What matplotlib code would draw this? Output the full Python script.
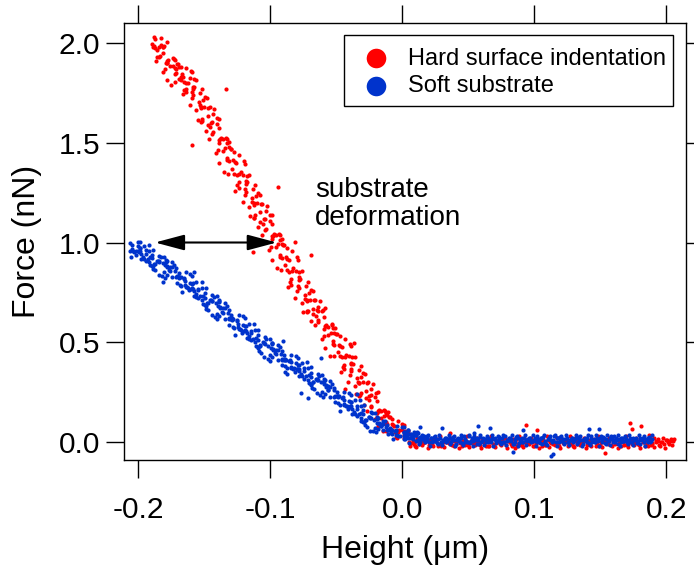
import matplotlib
matplotlib.use('Agg')
import matplotlib.pyplot as plt
from matplotlib.patches import Rectangle
from matplotlib.ticker import FormatStrFormatter

# ---------------- data ----------------
# Hard surface indentation: steep (contact) part, first sweep
hard_steep_x = [
    -0.1880, -0.1890, -0.1870, -0.1830, -0.1860, -0.1840, -0.1810, -0.1810, -0.1780, -0.1810,
    -0.1780, -0.1840, -0.1710, -0.1790, -0.1730, -0.1810, -0.1740, -0.1680, -0.1760, -0.1700,
    -0.166, -0.175, -0.167, -0.160, -0.169, -0.172, -0.159, -0.164, -0.156, -0.165,
    -0.158, -0.164, -0.151, -0.159, -0.153, -0.161, -0.154, -0.148, -0.156, -0.150,
    -0.146, -0.155, -0.147, -0.140, -0.149, -0.152, -0.139, -0.144, -0.136, -0.145,
    -0.138, -0.144, -0.131, -0.139, -0.133, -0.141, -0.134, -0.128, -0.136, -0.130,
    -0.126, -0.135, -0.127, -0.120, -0.129, -0.132, -0.119, -0.124, -0.116, -0.125,
    -0.118, -0.124, -0.111, -0.119, -0.113, -0.121, -0.114, -0.108, -0.116, -0.110,
    -0.106, -0.115, -0.107, -0.100, -0.109, -0.112, -0.099, -0.104, -0.096, -0.105,
    -0.098, -0.104, -0.091, -0.099, -0.093, -0.101, -0.094, -0.088, -0.096, -0.090,
    -0.086, -0.095, -0.087, -0.080, -0.089, -0.092, -0.079, -0.084, -0.076, -0.085,
    -0.078, -0.084, -0.071, -0.079, -0.073, -0.081, -0.074, -0.068, -0.076, -0.070,
    -0.066, -0.075, -0.067, -0.060, -0.069, -0.072, -0.059, -0.064, -0.056, -0.065,
    -0.058, -0.064, -0.051, -0.059, -0.053, -0.061, -0.054, -0.048, -0.056, -0.050,
    -0.046, -0.055, -0.047, -0.040, -0.049, -0.052, -0.039, -0.044, -0.036, -0.045,
    -0.038, -0.044, -0.031, -0.039, -0.033, -0.041, -0.034, -0.028, -0.036, -0.030,
    -0.026, -0.035, -0.027, -0.020, -0.029, -0.032, -0.019, -0.024, -0.016, -0.025,
    -0.018, -0.024, -0.011, -0.019, -0.013, -0.021, -0.014, -0.008, -0.016, -0.010,
    -0.006, -0.015, -0.007, 0.000, -0.009, -0.012, 0.001, -0.004, 0.004, -0.005,
    0.002, -0.004, 0.009, 0.001, 0.007,
]
hard_steep_y = [
    2.030, 1.980, 2.020, 1.990, 1.930, 1.980, 1.950, 1.980, 1.900, 1.980,
    1.900, 1.933, 1.896, 1.899, 1.922, 1.855, 1.888, 1.831, 1.884, 1.897,
    1.830, 1.793, 1.846, 1.859, 1.822, 1.805, 1.858, 1.771, 1.814, 1.767,
    1.820, 1.758, 1.716, 1.754, 1.752, 1.689, 1.707, 1.725, 1.663, 1.681,
    1.679, 1.617, 1.675, 1.623, 1.561, 1.608, 1.576, 1.604, 1.522, 1.600,
    1.518, 1.546, 1.504, 1.502, 1.519, 1.447, 1.475, 1.413, 1.461, 1.469,
    1.397, 1.355, 1.403, 1.411, 1.368, 1.346, 1.394, 1.302, 1.340, 1.288,
    1.336, 1.274, 1.232, 1.270, 1.267, 1.205, 1.223, 1.241, 1.179, 1.197,
    1.195, 1.133, 1.191, 1.139, 1.076, 1.124, 1.092, 1.120, 1.038, 1.116,
    1.034, 1.062, 1.020, 1.018, 1.036, 0.963, 0.991, 0.929, 0.977, 0.985,
    0.913, 0.871, 0.919, 0.927, 0.885, 0.863, 0.910, 0.818, 0.856, 0.804,
    0.850, 0.788, 0.746, 0.784, 0.782, 0.720, 0.738, 0.756, 0.694, 0.712,
    0.710, 0.651, 0.712, 0.663, 0.604, 0.655, 0.626, 0.657, 0.578, 0.659,
    0.580, 0.609, 0.569, 0.568, 0.587, 0.516, 0.546, 0.485, 0.534, 0.543,
    0.473, 0.432, 0.481, 0.490, 0.450, 0.429, 0.478, 0.387, 0.427, 0.376,
    0.425, 0.364, 0.324, 0.363, 0.362, 0.301, 0.321, 0.340, 0.279, 0.298,
    0.298, 0.237, 0.296, 0.245, 0.185, 0.234, 0.203, 0.232, 0.152, 0.231,
    0.158, 0.174, 0.148, 0.146, 0.156, 0.112, 0.128, 0.090, 0.118, 0.122,
    0.078, 0.054, 0.084, 0.090, 0.066, 0.054, 0.084, 0.030, 0.054, 0.024,
    0.054, 0.018, -0.006, 0.018, 0.018,
]
# Hard surface indentation: steep part, second sweep
hard_steep2_x = [
    -0.1895, -0.1825, -0.1880, -0.1835, -0.1785, -0.1855, -0.1875, -0.1775, -0.1805, -0.1865,
    -0.1715, -0.1785, -0.1735, -0.1795, -0.1695, -0.1725, -0.1785, -0.1675, -0.1725, -0.1635,
    -0.1715, -0.1625, -0.1725, -0.1635, -0.1585, -0.1655, -0.1675, -0.1575, -0.1605, -0.1665,
    -0.1515, -0.1585, -0.1535, -0.1595, -0.1495, -0.1525, -0.1585, -0.1475, -0.1525, -0.1435,
    -0.1515, -0.1425, -0.1525, -0.1435, -0.1385, -0.1455, -0.1475, -0.1375, -0.1405, -0.1465,
    -0.1315, -0.1385, -0.1335, -0.1395, -0.1295, -0.1325, -0.1385, -0.1275, -0.1325, -0.1235,
    -0.1315, -0.1225, -0.1325, -0.1235, -0.1185, -0.1255, -0.1275, -0.1175, -0.1205, -0.1265,
    -0.1115, -0.1185, -0.1135, -0.1195, -0.1095, -0.1125, -0.1185, -0.1075, -0.1125, -0.1035,
    -0.1115, -0.1025, -0.1125, -0.1035, -0.0985, -0.1055, -0.1075, -0.0975, -0.1005, -0.1065,
    -0.0915, -0.0985, -0.0935, -0.0995, -0.0895, -0.0925, -0.0985, -0.0875, -0.0925, -0.0835,
    -0.0915, -0.0825, -0.0925, -0.0835, -0.0785, -0.0855, -0.0875, -0.0775, -0.0805, -0.0865,
    -0.0715, -0.0785, -0.0735, -0.0795, -0.0695, -0.0725, -0.0785, -0.0675, -0.0725, -0.0635,
    -0.0715, -0.0625, -0.0725, -0.0635, -0.0585, -0.0655, -0.0675, -0.0575, -0.0605, -0.0665,
    -0.0515, -0.0585, -0.0535, -0.0595, -0.0495, -0.0525, -0.0585, -0.0475, -0.0525, -0.0435,
    -0.0515, -0.0425, -0.0525, -0.0435, -0.0385, -0.0455, -0.0475, -0.0375, -0.0405, -0.0465,
    -0.0315, -0.0385, -0.0335, -0.0395, -0.0295, -0.0325, -0.0385, -0.0275, -0.0325, -0.0235,
    -0.0315, -0.0225, -0.0325, -0.0235, -0.0185, -0.0255, -0.0275, -0.0175, -0.0205, -0.0265,
    -0.0115, -0.0185, -0.0135, -0.0195, -0.0095, -0.0125, -0.0185, -0.0075, -0.0125, -0.0035,
    -0.0115, -0.0025, -0.0125, -0.0035, 0.0015, -0.0055, -0.0075, 0.0025, -0.0005,
]
hard_steep2_y = [
    1.995, 2.025, 1.985, 1.935, 2.005, 1.965, 1.975, 1.915, 1.985, 1.910,
    1.870, 1.913, 1.926, 1.869, 1.882, 1.915, 1.818, 1.881, 1.844, 1.877,
    1.850, 1.803, 1.876, 1.799, 1.772, 1.805, 1.818, 1.781, 1.824, 1.744,
    1.772, 1.780, 1.688, 1.725, 1.733, 1.681, 1.739, 1.637, 1.675, 1.643,
    1.620, 1.668, 1.606, 1.554, 1.622, 1.580, 1.588, 1.526, 1.593, 1.521,
    1.479, 1.517, 1.525, 1.463, 1.471, 1.499, 1.397, 1.454, 1.412, 1.440,
    1.408, 1.356, 1.424, 1.342, 1.310, 1.338, 1.345, 1.303, 1.341, 1.259,
    1.287, 1.295, 1.203, 1.241, 1.249, 1.196, 1.254, 1.152, 1.190, 1.158,
    1.136, 1.184, 1.122, 1.070, 1.137, 1.095, 1.103, 1.041, 1.109, 1.037,
    0.995, 1.033, 1.041, 0.978, 0.986, 1.014, 0.912, 0.970, 0.928, 0.956,
    0.924, 0.872, 0.939, 0.857, 0.825, 0.853, 0.861, 0.819, 0.857, 0.776,
    0.802, 0.810, 0.718, 0.756, 0.764, 0.712, 0.770, 0.668, 0.706, 0.676,
    0.657, 0.708, 0.649, 0.600, 0.671, 0.632, 0.643, 0.584, 0.655, 0.585,
    0.544, 0.583, 0.593, 0.532, 0.541, 0.570, 0.470, 0.529, 0.488, 0.517,
    0.487, 0.436, 0.505, 0.424, 0.394, 0.423, 0.432, 0.391, 0.431, 0.350,
    0.379, 0.388, 0.298, 0.337, 0.346, 0.295, 0.355, 0.254, 0.293, 0.262,
    0.242, 0.291, 0.230, 0.179, 0.249, 0.208, 0.217, 0.156, 0.226, 0.155,
    0.134, 0.156, 0.160, 0.122, 0.126, 0.142, 0.080, 0.114, 0.088, 0.104,
    0.087, 0.057, 0.099, 0.051, 0.033, 0.051, 0.057, 0.033, 0.057,
]
hard_outlier_x = [-0.1336, -0.1596, -0.0939, -0.1130, -0.0694, -0.0813, -0.0366, -0.0434,
                  0.1725, 0.1810, 0.0937, 0.1536, 0.0854, 0.1018, 0.1870, 0.1740, 0.0360]
hard_outlier_y = [1.772, 1.488, 1.278, 0.950, 0.938, 1.002, 0.494, 0.263,
                  0.095, 0.080, 0.084, -0.055, -0.033, 0.059, 0.034, 0.062, 0.045]
# Hard surface indentation: flat (non-contact) part, two sweeps
hard_flat_x = [
    0.0050, 0.0065, 0.0080, 0.0095, 0.0110, 0.0125, 0.0140, 0.0155, 0.0170, 0.0185,
    0.0200, 0.0215, 0.0230, 0.0245, 0.0260, 0.0275, 0.0290, 0.0305, 0.0320, 0.0335,
    0.0350, 0.0365, 0.0380, 0.0395, 0.0410, 0.0425, 0.0440, 0.0455, 0.0470, 0.0485,
    0.0500, 0.0515, 0.0530, 0.0545, 0.0560, 0.0575, 0.0590, 0.0605, 0.0620, 0.0635,
    0.0650, 0.0665, 0.0680, 0.0695, 0.0710, 0.0725, 0.0740, 0.0755, 0.0770, 0.0785,
    0.0800, 0.0815, 0.0830, 0.0845, 0.0860, 0.0875, 0.0890, 0.0905, 0.0920, 0.0935,
    0.0950, 0.0965, 0.0980, 0.0995, 0.1010, 0.1025, 0.1040, 0.1055, 0.1070, 0.1085,
    0.1100, 0.1115, 0.1130, 0.1145, 0.1160, 0.1175, 0.1190, 0.1205, 0.1220, 0.1235,
    0.1250, 0.1265, 0.1280, 0.1295, 0.1310, 0.1325, 0.1340, 0.1355, 0.1370, 0.1385,
    0.1400, 0.1415, 0.1430, 0.1445, 0.1460, 0.1475, 0.1490, 0.1505, 0.1520, 0.1535,
    0.1550, 0.1565, 0.1580, 0.1595, 0.1610, 0.1625, 0.1640, 0.1655, 0.1670, 0.1685,
    0.1700, 0.1715, 0.1730, 0.1745, 0.1760, 0.1775, 0.1790, 0.1805, 0.1820, 0.1835,
    0.1850, 0.1865, 0.1880, 0.1895, 0.1910, 0.1925, 0.1940, 0.1955, 0.1970, 0.1985,
    0.2000, 0.2015, 0.2030, 0.2045, 0.2060,
]
hard_flat_y = [
    0.000, -0.008, 0.008, -0.020, 0.016, -0.012, 0.004, -0.008, -0.004, 0.008,
    -0.016, 0.000, -0.020, 0.004, 0.012, -0.012, -0.024, 0.000, 0.008, -0.004,
    -0.008, 0.016, -0.016, 0.004, -0.012, 0.012, -0.008, -0.020, 0.000, 0.004,
    -0.016, -0.004, 0.008, -0.012, 0.000, 0.004, -0.016, 0.012, -0.004, -0.024,
    -0.024, -0.004, 0.012, -0.016, 0.004, 0.000, -0.012, 0.008, -0.004, -0.016,
    0.004, 0.000, -0.020, -0.008, 0.012, -0.012, 0.004, -0.016, 0.016, -0.008,
    -0.004, 0.008, 0.000, -0.024, -0.012, 0.012, 0.004, -0.020, 0.000, -0.016,
    0.008, -0.004, -0.008, 0.004, -0.012, 0.016, -0.020, 0.008, -0.008, 0.000,
    0.000, -0.008, 0.008, -0.020, 0.016, -0.012, 0.004, -0.008, -0.004, 0.008,
    -0.016, 0.000, -0.020, 0.004, 0.012, -0.012, -0.024, 0.000, 0.008, -0.004,
    -0.008, 0.016, -0.016, 0.004, -0.012, 0.012, -0.008, -0.020, 0.000, 0.004,
    -0.016, -0.004, 0.008, -0.012, 0.000, 0.004, -0.016, 0.012, -0.004, -0.024,
    -0.012, 0.012, -0.016, -0.008, 0.016, -0.004, 0.004, -0.020, 0.000, -0.012,
    0.008, -0.004, 0.004, -0.016, 0.012,
]
hard_flat2_x = [
    0.0058, 0.0073, 0.0088, 0.0103, 0.0118, 0.0133, 0.0148, 0.0163, 0.0178, 0.0193,
    0.0208, 0.0223, 0.0238, 0.0253, 0.0268, 0.0283, 0.0298, 0.0313, 0.0328, 0.0343,
    0.0358, 0.0373, 0.0388, 0.0403, 0.0418, 0.0433, 0.0448, 0.0463, 0.0478, 0.0493,
    0.0508, 0.0523, 0.0538, 0.0553, 0.0568, 0.0583, 0.0598, 0.0613, 0.0628, 0.0643,
    0.0658, 0.0673, 0.0688, 0.0703, 0.0718, 0.0733, 0.0748, 0.0763, 0.0778, 0.0793,
    0.0808, 0.0823, 0.0838, 0.0853, 0.0868, 0.0883, 0.0898, 0.0913, 0.0928, 0.0943,
    0.0958, 0.0973, 0.0988, 0.1003, 0.1018, 0.1033, 0.1048, 0.1063, 0.1078, 0.1093,
    0.1108, 0.1123, 0.1138, 0.1153, 0.1168, 0.1183, 0.1198, 0.1213, 0.1228, 0.1243,
    0.1258, 0.1273, 0.1288, 0.1303, 0.1318, 0.1333, 0.1348, 0.1363, 0.1378, 0.1393,
    0.1408, 0.1423, 0.1438, 0.1453, 0.1468, 0.1483, 0.1498, 0.1513, 0.1528, 0.1543,
    0.1558, 0.1573, 0.1588, 0.1603, 0.1618, 0.1633, 0.1648, 0.1663, 0.1678, 0.1693,
    0.1708, 0.1723, 0.1738, 0.1753, 0.1768, 0.1783, 0.1798, 0.1813, 0.1828, 0.1843,
    0.1858, 0.1873, 0.1888, 0.1903, 0.1918, 0.1933, 0.1948, 0.1963, 0.1978, 0.1993,
    0.2008, 0.2023, 0.2038, 0.2053,
]
hard_flat2_y = [
    -0.022, 0.026, -0.010, -0.028, 0.002, 0.014, -0.016, -0.004, 0.020, -0.030,
    0.008, -0.010, 0.014, 0.002, -0.022, 0.026, -0.016, -0.028, -0.004, 0.008,
    -0.010, 0.020, -0.022, 0.002, 0.014, -0.030, -0.004, 0.008, -0.016, 0.026,
    -0.028, 0.002, -0.010, -0.016, 0.020, -0.010, -0.030, 0.014, -0.004, 0.008,
    -0.022, 0.026, -0.010, -0.028, 0.002, 0.014, -0.016, -0.004, 0.020, -0.030,
    0.008, -0.010, 0.014, 0.002, -0.022, 0.026, -0.016, -0.028, -0.004, 0.008,
    -0.010, 0.020, -0.022, 0.002, 0.014, -0.030, -0.004, 0.008, -0.016, 0.026,
    -0.028, 0.002, -0.010, -0.016, 0.020, -0.010, -0.030, 0.014, -0.004, 0.008,
    -0.022, 0.026, -0.010, -0.028, 0.002, 0.014, -0.016, -0.004, 0.020, -0.030,
    0.008, -0.010, 0.014, 0.002, -0.022, 0.026, -0.016, -0.028, -0.004, 0.008,
    -0.010, 0.020, -0.022, 0.002, 0.014, -0.030, -0.004, 0.008, -0.016, 0.026,
    -0.028, 0.002, -0.010, -0.016, 0.020, -0.010, -0.030, 0.014, -0.004, 0.008,
    -0.022, 0.026, -0.010, -0.028, 0.002, 0.014, -0.016, -0.004, 0.020, -0.030,
    0.008, -0.010, 0.014, 0.002,
]

# Soft substrate: steep part, first sweep
soft_steep_x = [
    -0.2030, -0.2060, -0.1990, -0.2040, -0.2055, -0.1990, -0.1960, -0.2020, -0.1980, -0.1920,
    -0.1980, -0.2000, -0.1930, -0.1890, -0.1960, -0.1880, -0.1910, -0.1840, -0.1910, -0.1850,
    -0.183, -0.189, -0.179, -0.184, -0.187, -0.179, -0.176, -0.182, -0.178, -0.172,
    -0.178, -0.180, -0.173, -0.169, -0.176, -0.168, -0.171, -0.164, -0.171, -0.165,
    -0.163, -0.169, -0.159, -0.164, -0.167, -0.159, -0.156, -0.162, -0.158, -0.152,
    -0.158, -0.160, -0.153, -0.149, -0.156, -0.148, -0.151, -0.144, -0.151, -0.145,
    -0.143, -0.149, -0.139, -0.144, -0.147, -0.139, -0.136, -0.142, -0.138, -0.132,
    -0.138, -0.140, -0.133, -0.129, -0.136, -0.128, -0.131, -0.124, -0.131, -0.125,
    -0.123, -0.129, -0.119, -0.124, -0.127, -0.119, -0.116, -0.122, -0.118, -0.112,
    -0.118, -0.120, -0.113, -0.109, -0.116, -0.108, -0.111, -0.104, -0.111, -0.105,
    -0.103, -0.109, -0.099, -0.104, -0.107, -0.099, -0.096, -0.102, -0.098, -0.092,
    -0.098, -0.100, -0.093, -0.089, -0.096, -0.088, -0.091, -0.084, -0.091, -0.085,
    -0.083, -0.089, -0.079, -0.084, -0.087, -0.079, -0.076, -0.082, -0.078, -0.072,
    -0.078, -0.080, -0.073, -0.069, -0.076, -0.068, -0.071, -0.064, -0.071, -0.065,
    -0.063, -0.069, -0.059, -0.064, -0.067, -0.059, -0.056, -0.062, -0.058, -0.052,
    -0.058, -0.060, -0.053, -0.049, -0.056, -0.048, -0.051, -0.044, -0.051, -0.045,
    -0.043, -0.049, -0.039, -0.044, -0.047, -0.039, -0.036, -0.042, -0.038, -0.032,
    -0.038, -0.040, -0.033, -0.029, -0.036, -0.028, -0.031, -0.024, -0.031, -0.025,
    -0.023, -0.029, -0.019, -0.024, -0.027, -0.019, -0.016, -0.022, -0.018, -0.012,
    -0.018, -0.020, -0.013, -0.009, -0.016, -0.008, -0.011, -0.004, -0.011, -0.005,
    -0.003, -0.009, 0.001, -0.004, -0.007, 0.001, 0.004,
]
soft_steep_y = [
    0.953, 0.997, 1.005, 0.957, 0.928, 0.972, 0.984, 0.956, 0.944, 0.987,
    0.919, 0.955, 0.919, 0.963, 0.918, 0.890, 0.926, 0.930, 0.886, 0.906,
    0.926, 0.882, 0.901, 0.905, 0.861, 0.913, 0.877, 0.832, 0.876, 0.855,
    0.883, 0.822, 0.889, 0.829, 0.856, 0.828, 0.831, 0.850, 0.796, 0.823,
    0.778, 0.820, 0.831, 0.778, 0.749, 0.791, 0.802, 0.773, 0.759, 0.802,
    0.733, 0.768, 0.730, 0.773, 0.728, 0.698, 0.733, 0.736, 0.690, 0.709,
    0.728, 0.683, 0.701, 0.704, 0.659, 0.709, 0.672, 0.627, 0.669, 0.648,
    0.675, 0.614, 0.680, 0.619, 0.646, 0.616, 0.619, 0.638, 0.584, 0.611,
    0.566, 0.609, 0.619, 0.566, 0.537, 0.579, 0.590, 0.561, 0.547, 0.590,
    0.521, 0.556, 0.518, 0.561, 0.516, 0.486, 0.521, 0.524, 0.478, 0.497,
    0.516, 0.471, 0.489, 0.492, 0.447, 0.497, 0.460, 0.416, 0.459, 0.439,
    0.466, 0.406, 0.474, 0.413, 0.441, 0.412, 0.416, 0.436, 0.383, 0.411,
    0.366, 0.410, 0.422, 0.369, 0.341, 0.384, 0.396, 0.368, 0.355, 0.399,
    0.330, 0.366, 0.329, 0.373, 0.328, 0.300, 0.335, 0.338, 0.293, 0.313,
    0.332, 0.287, 0.306, 0.309, 0.265, 0.316, 0.279, 0.234, 0.277, 0.257,
    0.284, 0.223, 0.290, 0.229, 0.257, 0.228, 0.231, 0.250, 0.198, 0.225,
    0.180, 0.223, 0.235, 0.182, 0.153, 0.197, 0.208, 0.179, 0.166, 0.210,
    0.141, 0.176, 0.140, 0.183, 0.138, 0.110, 0.145, 0.148, 0.103, 0.123,
    0.142, 0.097, 0.116, 0.120, 0.075, 0.126, 0.089, 0.056, 0.089, 0.075,
    0.096, 0.051, 0.102, 0.057, 0.079, 0.058, 0.061, 0.077, 0.039, 0.061,
    0.029, 0.063, 0.073, 0.035, 0.015, 0.049, 0.059,
]
# Soft substrate: steep part, second sweep
soft_steep2_x = [
    -0.2060, -0.2005, -0.2050, -0.2015, -0.1985, -0.2045, -0.1945, -0.1995, -0.2005, -0.1945,
    -0.1915, -0.1965, -0.1985, -0.1895, -0.1915, -0.1945, -0.1845, -0.1895, -0.1855, -0.1895,
    -0.1875, -0.1805, -0.1885, -0.1815, -0.1785, -0.1845, -0.1745, -0.1795, -0.1805, -0.1745,
    -0.1715, -0.1765, -0.1785, -0.1695, -0.1715, -0.1745, -0.1645, -0.1695, -0.1655, -0.1695,
    -0.1675, -0.1605, -0.1685, -0.1615, -0.1585, -0.1645, -0.1545, -0.1595, -0.1605, -0.1545,
    -0.1515, -0.1565, -0.1585, -0.1495, -0.1515, -0.1545, -0.1445, -0.1495, -0.1455, -0.1495,
    -0.1475, -0.1405, -0.1485, -0.1415, -0.1385, -0.1445, -0.1345, -0.1395, -0.1405, -0.1345,
    -0.1315, -0.1365, -0.1385, -0.1295, -0.1315, -0.1345, -0.1245, -0.1295, -0.1255, -0.1295,
    -0.1275, -0.1205, -0.1285, -0.1215, -0.1185, -0.1245, -0.1145, -0.1195, -0.1205, -0.1145,
    -0.1115, -0.1165, -0.1185, -0.1095, -0.1115, -0.1145, -0.1045, -0.1095, -0.1055, -0.1095,
    -0.1075, -0.1005, -0.1085, -0.1015, -0.0985, -0.1045, -0.0945, -0.0995, -0.1005, -0.0945,
    -0.0915, -0.0965, -0.0985, -0.0895, -0.0915, -0.0945, -0.0845, -0.0895, -0.0855, -0.0895,
    -0.0875, -0.0805, -0.0885, -0.0815, -0.0785, -0.0845, -0.0745, -0.0795, -0.0805, -0.0745,
    -0.0715, -0.0765, -0.0785, -0.0695, -0.0715, -0.0745, -0.0645, -0.0695, -0.0655, -0.0695,
    -0.0675, -0.0605, -0.0685, -0.0615, -0.0585, -0.0645, -0.0545, -0.0595, -0.0605, -0.0545,
    -0.0515, -0.0565, -0.0585, -0.0495, -0.0515, -0.0545, -0.0445, -0.0495, -0.0455, -0.0495,
    -0.0475, -0.0405, -0.0485, -0.0415, -0.0385, -0.0445, -0.0345, -0.0395, -0.0405, -0.0345,
    -0.0315, -0.0365, -0.0385, -0.0295, -0.0315, -0.0345, -0.0245, -0.0295, -0.0255, -0.0295,
    -0.0275, -0.0205, -0.0285, -0.0215, -0.0185, -0.0245, -0.0145, -0.0195, -0.0205, -0.0145,
    -0.0115, -0.0165, -0.0185, -0.0095, -0.0115, -0.0145, -0.0045, -0.0095, -0.0055, -0.0095,
    -0.0075, -0.0005, -0.0085, -0.0015, 0.0015, -0.0045,
]
soft_steep2_y = [
    0.959, 1.005, 0.967, 0.939, 0.974, 0.986, 0.942, 0.954, 0.982, 0.905,
    0.957, 0.929, 0.957, 0.937, 0.900, 0.960, 0.900, 0.880, 0.908, 0.920,
    0.892, 0.928, 0.867, 0.895, 0.907, 0.839, 0.875, 0.886, 0.850, 0.901,
    0.825, 0.860, 0.839, 0.827, 0.870, 0.826, 0.789, 0.848, 0.818, 0.829,
    0.784, 0.842, 0.789, 0.760, 0.795, 0.805, 0.760, 0.771, 0.797, 0.720,
    0.771, 0.742, 0.768, 0.747, 0.710, 0.768, 0.707, 0.686, 0.712, 0.723,
    0.694, 0.729, 0.667, 0.694, 0.705, 0.635, 0.670, 0.681, 0.643, 0.694,
    0.617, 0.652, 0.630, 0.617, 0.660, 0.614, 0.577, 0.636, 0.606, 0.617,
    0.572, 0.631, 0.577, 0.548, 0.583, 0.593, 0.548, 0.559, 0.585, 0.508,
    0.559, 0.530, 0.556, 0.535, 0.498, 0.556, 0.495, 0.474, 0.500, 0.511,
    0.482, 0.517, 0.455, 0.482, 0.493, 0.423, 0.458, 0.470, 0.433, 0.485,
    0.408, 0.444, 0.424, 0.411, 0.455, 0.410, 0.374, 0.434, 0.405, 0.417,
    0.372, 0.432, 0.380, 0.351, 0.387, 0.398, 0.354, 0.366, 0.393, 0.317,
    0.368, 0.340, 0.367, 0.347, 0.310, 0.370, 0.309, 0.288, 0.315, 0.327,
    0.298, 0.333, 0.272, 0.299, 0.311, 0.242, 0.277, 0.288, 0.251, 0.303,
    0.226, 0.261, 0.240, 0.227, 0.271, 0.226, 0.189, 0.248, 0.220, 0.231,
    0.186, 0.245, 0.193, 0.164, 0.199, 0.211, 0.166, 0.177, 0.204, 0.128,
    0.179, 0.150, 0.178, 0.157, 0.120, 0.180, 0.119, 0.098, 0.125, 0.137,
    0.108, 0.143, 0.082, 0.110, 0.121, 0.052, 0.087, 0.094, 0.071, 0.103,
    0.057, 0.078, 0.065, 0.057, 0.084, 0.057, 0.035, 0.071, 0.055, 0.063,
    0.037, 0.073, 0.042, 0.026, 0.048, 0.055,
]
soft_outlier_x = [-0.1580, -0.0900, -0.0618, -0.0889, -0.0770, -0.0712, -0.0345, -0.1810,
                  0.1140, 0.1130, 0.0836, 0.0576, 0.0664, 0.1490, 0.1417, 0.0917, 0.0300,
                  0.0134, 0.0540]
soft_outlier_y = [0.854, 0.506, 0.419, 0.352, 0.243, 0.218, 0.240, 0.804,
                  -0.062, -0.070, -0.050, 0.079, 0.070, 0.062, 0.062, 0.059, 0.067,
                  0.075, 0.042]
soft_contact_x = [0.0012, 0.0031, 0.0045, 0.0060, 0.0074, 0.0088, 0.0101, 0.0117,
                  0.0133, 0.0150, 0.0168, 0.0185]
soft_contact_y = [0.045, 0.030, 0.058, 0.038, 0.025, 0.050, 0.033, 0.042,
                  0.022, 0.036, 0.028, 0.018]
# Soft substrate: flat part, two sweeps
soft_flat_x = [
    0.0010, 0.0022, 0.0034, 0.0046, 0.0058, 0.0070, 0.0082, 0.0094, 0.0106, 0.0118,
    0.0130, 0.0142, 0.0154, 0.0166, 0.0178, 0.0190, 0.0202, 0.0214, 0.0226, 0.0238,
    0.0250, 0.0262, 0.0274, 0.0286, 0.0298, 0.0310, 0.0322, 0.0334, 0.0346, 0.0358,
    0.0370, 0.0382, 0.0394, 0.0406, 0.0418, 0.0430, 0.0442, 0.0454, 0.0466, 0.0478,
    0.0490, 0.0502, 0.0514, 0.0526, 0.0538, 0.0550, 0.0562, 0.0574, 0.0586, 0.0598,
    0.0610, 0.0622, 0.0634, 0.0646, 0.0658, 0.0670, 0.0682, 0.0694, 0.0706, 0.0718,
    0.0730, 0.0742, 0.0754, 0.0766, 0.0778, 0.0790, 0.0802, 0.0814, 0.0826, 0.0838,
    0.0850, 0.0862, 0.0874, 0.0886, 0.0898, 0.0910, 0.0922, 0.0934, 0.0946, 0.0958,
    0.0970, 0.0982, 0.0994, 0.1006, 0.1018, 0.1030, 0.1042, 0.1054, 0.1066, 0.1078,
    0.1090, 0.1102, 0.1114, 0.1126, 0.1138, 0.1150, 0.1162, 0.1174, 0.1186, 0.1198,
    0.1210, 0.1222, 0.1234, 0.1246, 0.1258, 0.1270, 0.1282, 0.1294, 0.1306, 0.1318,
    0.1330, 0.1342, 0.1354, 0.1366, 0.1378, 0.1390, 0.1402, 0.1414, 0.1426, 0.1438,
    0.1450, 0.1462, 0.1474, 0.1486, 0.1498, 0.1510, 0.1522, 0.1534, 0.1546, 0.1558,
    0.1570, 0.1582, 0.1594, 0.1606, 0.1618, 0.1630, 0.1642, 0.1654, 0.1666, 0.1678,
    0.1690, 0.1702, 0.1714, 0.1726, 0.1738, 0.1750, 0.1762, 0.1774, 0.1786, 0.1798,
    0.1810, 0.1822, 0.1834, 0.1846, 0.1858, 0.1870, 0.1882, 0.1894,
]
soft_flat_y = [
    0.026, 0.014, 0.028, 0.040, 0.016, 0.032, 0.012, 0.036, 0.034, 0.010,
    -0.012, 0.012, 0.020, 0.008, 0.004, 0.028, -0.004, 0.016, 0.000, 0.024,
    0.004, -0.008, 0.012, 0.016, -0.004, 0.008, 0.020, 0.000, 0.012, 0.016,
    -0.004, 0.024, 0.008, -0.012, 0.012, 0.004, 0.020, -0.008, 0.028, 0.000,
    0.000, 0.028, -0.008, 0.020, 0.004, 0.012, -0.012, 0.008, 0.024, -0.004,
    0.016, 0.012, 0.000, 0.020, 0.008, -0.004, 0.016, 0.012, -0.008, 0.004,
    0.024, 0.000, 0.016, -0.004, 0.028, 0.004, 0.008, 0.020, 0.012, -0.012,
    0.000, 0.024, 0.016, -0.008, 0.012, -0.004, 0.020, 0.008, 0.004, 0.016,
    0.016, 0.004, 0.008, 0.020, -0.004, 0.012, -0.008, 0.016, 0.024, 0.000,
    -0.012, 0.012, 0.020, 0.008, 0.004, 0.028, -0.004, 0.016, 0.000, 0.024,
    0.004, -0.008, 0.012, 0.016, -0.004, 0.008, 0.020, 0.000, 0.012, 0.016,
    -0.004, 0.024, 0.008, -0.012, 0.012, 0.004, 0.020, -0.008, 0.028, 0.000,
    0.012, -0.004, 0.020, 0.008, 0.016, 0.000, 0.024, -0.008, 0.012, 0.004,
    0.016, 0.028, -0.004, 0.008, 0.020, -0.012, 0.012, 0.000, 0.016, 0.004,
    0.024, -0.004, 0.008, 0.016, 0.000, 0.020, 0.012, -0.008, 0.004, 0.016,
    0.008, 0.020, -0.004, 0.012, 0.000, 0.024, 0.004, 0.012,
]
soft_flat2_x = [
    0.0016, 0.0028, 0.0040, 0.0052, 0.0064, 0.0076, 0.0088, 0.0100, 0.0112, 0.0124,
    0.0136, 0.0148, 0.0160, 0.0172, 0.0184, 0.0196, 0.0208, 0.0220, 0.0232, 0.0244,
    0.0256, 0.0268, 0.0280, 0.0292, 0.0304, 0.0316, 0.0328, 0.0340, 0.0352, 0.0364,
    0.0376, 0.0388, 0.0400, 0.0412, 0.0424, 0.0436, 0.0448, 0.0460, 0.0472, 0.0484,
    0.0496, 0.0508, 0.0520, 0.0532, 0.0544, 0.0556, 0.0568, 0.0580, 0.0592, 0.0604,
    0.0616, 0.0628, 0.0640, 0.0652, 0.0664, 0.0676, 0.0688, 0.0700, 0.0712, 0.0724,
    0.0736, 0.0748, 0.0760, 0.0772, 0.0784, 0.0796, 0.0808, 0.0820, 0.0832, 0.0844,
    0.0856, 0.0868, 0.0880, 0.0892, 0.0904, 0.0916, 0.0928, 0.0940, 0.0952, 0.0964,
    0.0976, 0.0988, 0.1000, 0.1012, 0.1024, 0.1036, 0.1048, 0.1060, 0.1072, 0.1084,
    0.1096, 0.1108, 0.1120, 0.1132, 0.1144, 0.1156, 0.1168, 0.1180, 0.1192, 0.1204,
    0.1216, 0.1228, 0.1240, 0.1252, 0.1264, 0.1276, 0.1288, 0.1300, 0.1312, 0.1324,
    0.1336, 0.1348, 0.1360, 0.1372, 0.1384, 0.1396, 0.1408, 0.1420, 0.1432, 0.1444,
    0.1456, 0.1468, 0.1480, 0.1492, 0.1504, 0.1516, 0.1528, 0.1540, 0.1552, 0.1564,
    0.1576, 0.1588, 0.1600, 0.1612, 0.1624, 0.1636, 0.1648, 0.1660, 0.1672, 0.1684,
    0.1696, 0.1708, 0.1720, 0.1732, 0.1744, 0.1756, 0.1768, 0.1780, 0.1792, 0.1804,
    0.1816, 0.1828, 0.1840, 0.1852, 0.1864, 0.1876, 0.1888,
]
soft_flat2_y = [
    0.011, 0.047, 0.017, -0.007, 0.041, 0.023, 0.035, 0.005, 0.049, 0.017,
    -0.001, 0.029, 0.026, -0.004, 0.008, 0.032, -0.022, 0.020, 0.002, 0.026,
    0.014, -0.010, 0.034, -0.004, -0.016, 0.008, 0.020, 0.002, 0.032, -0.010,
    0.014, 0.026, -0.022, 0.008, 0.020, -0.004, 0.034, -0.016, 0.014, 0.002,
    -0.004, 0.032, 0.002, -0.022, 0.026, 0.008, 0.020, -0.010, 0.034, 0.002,
    -0.016, 0.014, 0.026, -0.004, 0.008, 0.032, -0.022, 0.020, 0.002, 0.026,
    0.014, -0.010, 0.034, -0.004, -0.016, 0.008, 0.020, 0.002, 0.032, -0.010,
    0.014, 0.026, -0.022, 0.008, 0.020, -0.004, 0.034, -0.016, 0.014, 0.002,
    -0.004, 0.032, 0.002, -0.022, 0.026, 0.008, 0.020, -0.010, 0.034, 0.002,
    -0.016, 0.014, 0.026, -0.004, 0.008, 0.032, -0.022, 0.020, 0.002, 0.026,
    0.014, -0.010, 0.034, -0.004, -0.016, 0.008, 0.020, 0.002, 0.032, -0.010,
    0.014, 0.026, -0.022, 0.008, 0.020, -0.004, 0.034, -0.016, 0.014, 0.002,
    -0.004, 0.032, 0.002, -0.022, 0.026, 0.008, 0.020, -0.010, 0.034, 0.002,
    -0.016, 0.014, 0.026, -0.004, 0.008, 0.032, -0.022, 0.020, 0.002, 0.026,
    0.014, -0.010, 0.034, -0.004, -0.016, 0.008, 0.020, 0.002, 0.032, -0.010,
    0.014, 0.026, -0.022, 0.008, 0.020, -0.004, 0.034,
]

series_labels = ['Hard surface indentation', 'Soft substrate']
x_ticks = [-0.2, -0.1, 0.0, 0.1, 0.2]
y_ticks = [0.0, 0.5, 1.0, 1.5, 2.0]
arrow_start = (-0.1873, 1.0)
arrow_end = (-0.0951, 1.0)


def pairs(*parts):
    xs, ys = [], []
    for px, py in parts:
        n = min(len(px), len(py))
        xs += list(px[:n])
        ys += list(py[:n])
    return xs, ys


hard_x, hard_y = pairs((hard_steep_x, hard_steep_y), (hard_steep2_x, hard_steep2_y),
                       (hard_outlier_x, hard_outlier_y), (hard_flat_x, hard_flat_y),
                       (hard_flat2_x, hard_flat2_y))
soft_x, soft_y = pairs((soft_steep_x, soft_steep_y), (soft_steep2_x, soft_steep2_y),
                       (soft_outlier_x, soft_outlier_y), (soft_contact_x, soft_contact_y),
                       (soft_flat_x, soft_flat_y), (soft_flat2_x, soft_flat2_y))

# ---------------- figure ----------------
plt.rcParams['font.family'] = ['Liberation Sans', 'DejaVu Sans']
plt.rcParams['axes.unicode_minus'] = False

RED = '#ff0000'
BLUE = '#0033cc'

fig = plt.figure(figsize=(6.94, 5.71), dpi=100)
ax = fig.add_axes([0.1787, 0.1944, 0.8098, 0.7658])

ax.scatter(hard_x, hard_y, s=9, color=RED, linewidths=0, label=series_labels[0], zorder=2)
ax.scatter(soft_x, soft_y, s=9, color=BLUE, linewidths=0, label=series_labels[1], zorder=3)

ax.set_xlim(-0.2108, 0.2149)
ax.set_ylim(-0.092, 2.1035)
ax.set_xticks(x_ticks)
ax.set_yticks(y_ticks)
ax.xaxis.set_major_formatter(FormatStrFormatter('%.1f'))
ax.yaxis.set_major_formatter(FormatStrFormatter('%.1f'))

for sp in ax.spines.values():
    sp.set_linewidth(1.0)
ax.tick_params(axis='both', which='major', direction='out', length=13, width=1.0,
               top=True, right=True, labeltop=False, labelright=False,
               labelsize=21.5)
ax.tick_params(axis='x', pad=13)
ax.tick_params(axis='y', pad=4)

ax.set_xlabel('Height (\u03bcm)', fontsize=23, labelpad=8)
ax.set_ylabel('Force (nN)', fontsize=23, labelpad=12)

ax.annotate('', xy=arrow_end, xytext=arrow_start,
            arrowprops=dict(arrowstyle='<|-|>,head_length=1.8,head_width=0.48',
                            color='black', lw=1.5, shrinkA=0, shrinkB=0,
                            mutation_scale=10))
ax.text(-0.0661, 1.330, 'substrate\ndeformation', fontsize=20, ha='left', va='top',
        linespacing=1.1)

# legend frame drawn as its own box, entries placed inside it
ax.add_patch(Rectangle((0.3915, 0.8095), 0.5854, 0.1624, transform=ax.transAxes,
                       facecolor='white', edgecolor='black', linewidth=1.0, zorder=4))
leg = ax.legend(loc='upper right', bbox_to_anchor=(0.9769, 0.9593), borderaxespad=0,
                fontsize=17, frameon=False, markerscale=4.7, scatterpoints=1,
                handlelength=2.0, handletextpad=0.35, borderpad=0.3,
                labelspacing=0.22)
leg.set_zorder(5)

fig.savefig('out.png', dpi=100)
